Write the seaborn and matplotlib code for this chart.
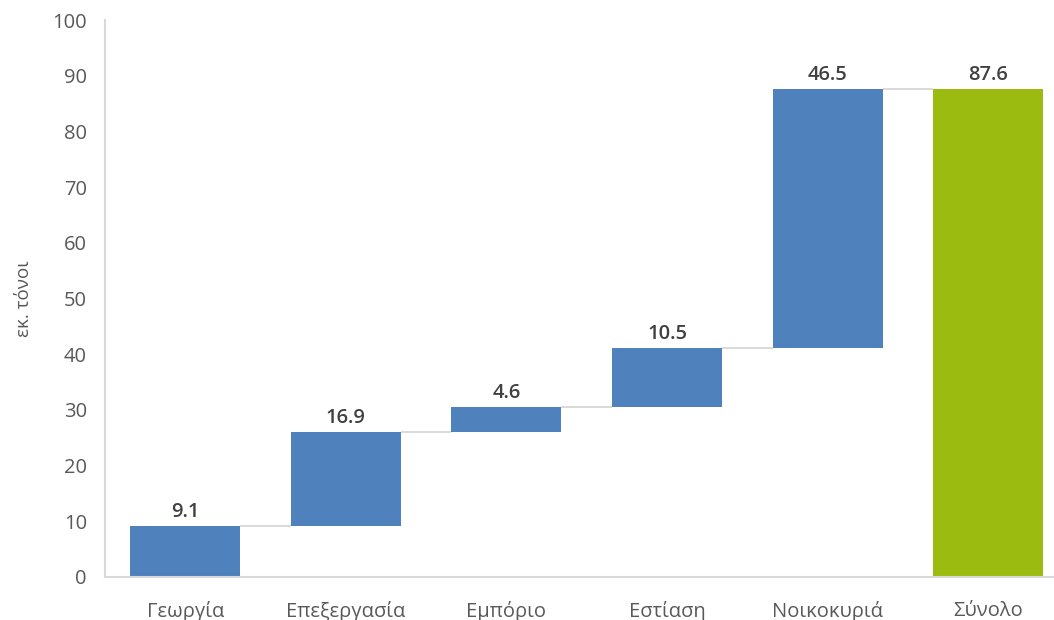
import numpy as np
import pandas as pd
import matplotlib
matplotlib.use("Agg")
import matplotlib.pyplot as plt
import seaborn as sns

categories = ["Γεωργία", "Επεξεργασία", "Εμπόριο", "Εστίαση", "Νοικοκυριά", "Σύνολο"]
values = [9.1, 16.9, 4.6, 10.5, 46.5, 87.6]
is_total = [False, False, False, False, False, True]
y_ticks = [0, 10, 20, 30, 40, 50, 60, 70, 80, 90, 100]
y_label = "εκ. τόνοι"

BLUE = "#4f81bd"
GREEN = "#9bbb10"
TEXT = "#595959"
VALUE_TEXT = "#404040"
LINE = "#d9d9d9"

# Waterfall bases: each step starts where the previous one ended; totals start at zero
bases = []
running = 0.0
for v, t in zip(values, is_total):
    if t:
        bases.append(0.0)
    else:
        bases.append(running)
        running += v
tops = [b + v for b, v in zip(bases, values)]

df = pd.DataFrame({"category": categories, "value": values, "base": bases})

sns.set_theme(style="white")
plt.rcParams["font.family"] = ["Open Sans", "DejaVu Sans"]

fig = plt.figure(figsize=(10.54, 6.2), dpi=100)
ax = fig.add_axes([105 / 1054, 43 / 620, 949 / 1054, 557 / 620])

bar_w = 0.685
sns.barplot(data=df, x="category", y="value", bottom=df["base"].to_numpy(),
            color=BLUE, saturation=1, width=bar_w, ax=ax, errorbar=None)
for patch, t in zip(ax.patches, is_total):
    patch.set_facecolor(GREEN if t else BLUE)
    patch.set_edgecolor("none")

# Connector lines between consecutive bars
for i in range(len(values) - 1):
    ax.hlines(tops[i], i + bar_w / 2, i + 1 - bar_w / 2, color=LINE, lw=1.4, zorder=0)

# Value labels
for i, (v, top) in enumerate(zip(values, tops)):
    ax.text(i, top + 0.7, f"{v:.1f}", ha="center", va="bottom",
            fontsize=14.5, fontweight="semibold", color=VALUE_TEXT)

ax.set_ylim(0, 100)
ax.set_xlim(-0.5, 5.41)
ax.set_yticks(y_ticks)
ax.set_xlabel("")
ax.set_ylabel(y_label, fontsize=13.5, color=TEXT, labelpad=14)
ax.tick_params(axis="y", length=0, pad=13, labelsize=14.5, labelcolor=TEXT)
ax.tick_params(axis="x", length=0, pad=17, labelsize=14.5, labelcolor=TEXT)

for side in ["top", "right"]:
    ax.spines[side].set_visible(False)
for side in ["left", "bottom"]:
    ax.spines[side].set_color(LINE)
    ax.spines[side].set_linewidth(1.5)

fig.savefig("out.png", dpi=100)
